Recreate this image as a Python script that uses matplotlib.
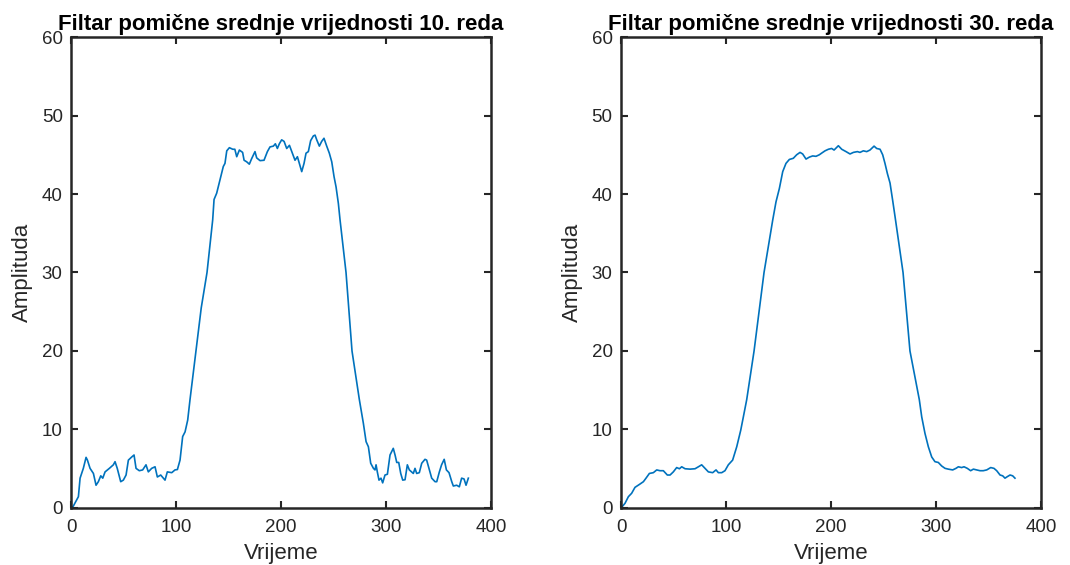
import matplotlib.pyplot as plt

x_10 = [0, 2, 7, 8.6, 11.7, 14.3, 15.6, 18.1, 21.3, 23.8, 26, 28.3, 30.2, 32.4, 36.5, 40.3,
        41.9, 44, 47.3, 49.8, 52.4, 54.6, 57.8, 60, 61.9, 65, 68.2, 71.4, 73.6, 76.8, 80,
        82.2, 85.4, 89.5, 91.7, 95.9, 99, 101.3, 103.8, 106.3, 108.6, 111.1, 113.3, 119,
        124, 129.5, 134.9, 136.2, 138.7, 141.9, 145, 146.6, 148.3, 150.8, 154, 156, 157.8,
        160.3, 163.4, 164.8, 167.3, 169.8, 172, 175.2, 176.8, 180, 183.8, 187, 189.5, 192.7,
        194.6, 196.5, 198.4, 200.6, 202.9, 205.4, 208, 210.2, 213.3, 215.6, 219.7, 221.9,
        223.8, 226, 228.2, 230.8, 232.4, 234, 236.5, 238.7, 240.9, 243.5, 246, 248.3, 250.5,
        252.4, 254.6, 256.2, 261.9, 267.6, 274.6, 278.4, 281, 283.2, 285.4, 288, 289.5,
        290.5, 291.7, 293.3, 295.2, 296.8, 299, 301.3, 303.8, 305.4, 306.9, 308.6, 310.2,
        312.1, 314, 315.9, 318.1, 320.3, 322.2, 324.4, 326, 327.6, 329.2, 331.7, 334, 337.1,
        338.7, 341.3, 343.5, 346.7, 348.3, 350.8, 352.9, 355.4, 357.5, 360, 362.6, 364.1,
        367.3, 369.8, 372, 374.3, 376.2, 378.4]
y_10 = [0, 0.2, 1.44, 3.8, 5.05, 6.45, 6.1, 5.05, 4.4, 2.9, 3.35, 4.1, 3.8, 4.6, 5.05, 5.5,
        5.9, 5.05, 3.35, 3.55, 4.2, 6.1, 6.5, 6.75, 5.05, 4.75, 4.85, 5.5, 4.6, 5.05, 5.25,
        3.95, 4.2, 3.55, 4.6, 4.5, 4.85, 4.9, 6.1, 9.1, 9.7, 11.2, 13.8, 20,
        25.5, 30, 36.7, 39.3, 40.1, 41.8, 43.5, 43.9, 45.5, 45.9, 45.7, 45.7, 44.75,
        45.6, 45.3, 44.3, 44.1, 43.8, 44.5, 45.4, 44.6, 44.25, 44.3, 45.4, 46.0, 46.1,
        46.4, 45.8, 46.4, 46.9, 46.7, 45.8, 46.2, 45.4, 44.3, 44.75, 42.85, 43.9,
        45.2, 45.4, 46.8, 47.4, 47.5, 46.9, 46.1, 46.7, 47.1, 46.1, 45.2, 44.1, 42.2,
        40.9, 38.8, 36.7, 30, 20, 13.8, 10.8, 8.45, 7.8, 5.7, 5.05, 4.85,
        5.5, 4.6, 3.55, 3.8, 3.2, 4.2, 4.3, 6.75, 7.2, 7.6, 6.75, 5.8,
        5.8, 4.4, 3.55, 3.6, 5.5, 4.85, 4.6, 4.4, 5.05, 4.4, 4.5, 5.7, 6.2,
        6.1, 4.85, 3.8, 3.35, 3.35, 4.6, 5.5, 6.2, 4.85, 4.5, 3.35, 2.8,
        2.9, 2.7, 3.8, 3.7, 2.9, 3.8]

# Filter of order 30
x_30 = [0, 3.8, 7, 10.1, 13.3, 17.5, 21.3, 23.8, 27, 30.8, 34, 37.1, 40.3, 44.1, 46.7, 49.8,
        53, 55.6, 57.8, 61, 65.7, 70.5, 73.7, 76.8, 80, 83.2, 87.3, 90.5, 92.7, 95.9, 99,
        102.2, 106.3, 110.2, 114, 116.5, 119.7, 126.7, 136.2, 144.5, 147.6, 150.8, 154,
        157.1, 160.3, 164.1, 167.3, 170.5, 173, 176.2, 179.4, 182.5, 185.7, 188.9, 191,
        194.3, 197.5, 200.6, 202.9, 207, 210.2, 214.3, 218.1, 221.3, 225.1, 227.6, 230.8,
        234, 237.1, 241, 243.5, 246.7, 249.2, 251.4, 253.7, 256.2, 258.7, 261, 268.6,
        275.2, 284.1, 286.4, 289.5, 292.7, 295.9, 299, 302.2, 305.4, 308.6, 311.7, 315.9,
        319, 321.3, 324.4, 326.7, 329.8, 333, 335.6, 338.7, 341.9, 345, 348.3, 352.1,
        355.2, 357.8, 361, 363.5, 365.7, 368, 370.5, 373, 375.2]
y_30 = [0, 0.6, 1.44, 1.87, 2.63, 3.0, 3.35, 3.8, 4.4, 4.5, 4.85, 4.75, 4.75, 4.2, 4.2, 4.6,
        5.15, 5.0, 5.25, 5.0, 4.95, 5.0, 5.25, 5.5, 5.05, 4.6, 4.5, 4.85, 4.5, 4.5, 4.75,
        5.5, 6.1, 7.8, 9.9, 11.6, 13.8, 20, 30, 36.7, 39.0, 40.7, 42.85,
        43.9, 44.4, 44.55, 45.0, 45.3, 45.1, 44.45, 44.7, 44.85, 44.8, 45.0, 45.2,
        45.5, 45.7, 45.8, 45.6, 46.15, 45.7, 45.4, 45.1, 45.3, 45.4, 45.3, 45.5,
        45.4, 45.6, 46.1, 45.8, 45.7, 45.0, 43.9, 42.6, 41.4, 39.2, 37.1, 30,
        20, 13.8, 11.6, 9.5, 7.8, 6.5, 5.9, 5.8, 5.35, 5.05, 4.95, 4.85,
        5.05, 5.25, 5.15, 5.25, 5.05, 4.75, 4.95, 4.85, 4.75, 4.75, 4.85, 5.15,
        5.05, 4.75, 4.2, 4.1, 3.8, 4.0, 4.2, 4.1, 3.8]

titles = ['Filtar pomične srednje vrijednosti 10. reda',
          'Filtar pomične srednje vrijednosti 30. reda']
x_ticks = [0, 100, 200, 300, 400]
y_ticks = [0, 10, 20, 30, 40, 50, 60]

plt.rcParams['font.family'] = ['Liberation Sans', 'DejaVu Sans']

fig = plt.figure(figsize=(10.7, 5.65), dpi=100)
ax1 = fig.add_axes([0.0664, 0.1009, 0.3925, 0.8336])
ax2 = fig.add_axes([0.5804, 0.1009, 0.3925, 0.8336])

for ax, xs, ys, title in [(ax1, x_10, y_10, titles[0]), (ax2, x_30, y_30, titles[1])]:
    ax.plot(xs, ys, color='#0072BD', linewidth=1.2)
    ax.set_xlim(0, 400)
    ax.set_ylim(0, 60)
    ax.set_xticks(x_ticks)
    ax.set_yticks(y_ticks)
    ax.tick_params(direction='in', length=5, width=1.5, colors='#262626',
                   labelsize=13.5, top=True, right=True, pad=6)
    ax.tick_params(axis='x', pad=8)
    for spine in ax.spines.values():
        spine.set_color('#262626')
        spine.set_linewidth(1.8)
    ax.set_title(title, fontsize=16, fontweight='bold', pad=5)
    ax.set_xlabel('Vrijeme', fontsize=16, color='#262626', labelpad=5)
    ax.set_ylabel('Amplituda', fontsize=16, color='#262626', labelpad=6)

plt.savefig('out.png', dpi=100)
